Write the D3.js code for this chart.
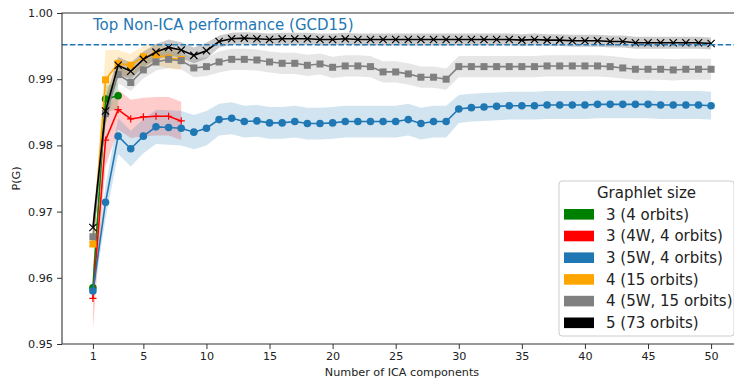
<!DOCTYPE html>
<html>
<head>
<meta charset="utf-8">
<script src="https://cdn.jsdelivr.net/npm/d3@7"></script>
<style>
  body { margin: 0; background: #fff; }
  svg text { font-family: "DejaVu Sans", sans-serif; }
</style>
</head>
<body>
<div id="chart"></div>
<script>
// ---- data ----
var xTicks = [1, 5, 10, 15, 20, 25, 30, 35, 40, 45, 50];
var yTicks = [0.95, 0.96, 0.97, 0.98, 0.99, 1.00];
var gcdLine = 0.9952;
var gcdLabel = "Top Non-ICA performance (GCD15)";
var legendTitle = "Graphlet size";

var greenVals = [0.9585, 0.9870, 0.9875];
var greenBand = [0.0010, 0.0020, 0.0020];

var redVals = [0.9569, 0.9808, 0.9854, 0.9840, 0.9843, 0.9844, 0.9844, 0.9837];
var redBand = [0.0047, 0.0040, 0.0030, 0.0029, 0.0029, 0.0029, 0.0029, 0.0029];

var orangeVals = [0.9651, 0.9899, 0.9924, 0.9921, 0.9934, 0.9937, 0.9932, 0.9930];
var orangeBand = [0.0015, 0.0045, 0.0020, 0.0017, 0.0016, 0.0016, 0.0016, 0.0016];

var blueVals = [0.9580, 0.9714, 0.9814, 0.9795, 0.9814, 0.9828, 0.9827, 0.9826, 0.9820, 0.9826,
                0.9839, 0.9841, 0.9836, 0.9837, 0.9834, 0.9834, 0.9836, 0.9833, 0.9833, 0.9834,
                0.9836, 0.9836, 0.9836, 0.9836, 0.9836, 0.9839, 0.9833, 0.9836, 0.9836, 0.9855,
                0.9857, 0.9858, 0.9859, 0.9860, 0.9860, 0.9860, 0.9861, 0.9861, 0.9861, 0.9861,
                0.9862, 0.9862, 0.9862, 0.9862, 0.9862, 0.9861, 0.9861, 0.9861, 0.9861, 0.9860];
var blueBand = [0.0012, 0.0025, 0.0027, 0.0027, 0.0026, 0.0026, 0.0026, 0.0026, 0.0026, 0.0026,
                0.0024, 0.0024, 0.0024, 0.0024, 0.0024, 0.0024, 0.0024, 0.0024, 0.0024, 0.0024,
                0.0024, 0.0024, 0.0024, 0.0024, 0.0024, 0.0024, 0.0024, 0.0024, 0.0024, 0.0021,
                0.0021, 0.0021, 0.0021, 0.0021, 0.0021, 0.0021, 0.0021, 0.0021, 0.0021, 0.0021,
                0.0021, 0.0021, 0.0021, 0.0021, 0.0021, 0.0021, 0.0021, 0.0021, 0.0021, 0.0021];

var grayVals = [0.9662, 0.9848, 0.9907, 0.9895, 0.9914, 0.9926, 0.9930, 0.9928, 0.9917, 0.9919,
                0.9926, 0.9930, 0.9930, 0.9929, 0.9926, 0.9924, 0.9924, 0.9921, 0.9923, 0.9918,
                0.9920, 0.9920, 0.9919, 0.9911, 0.9911, 0.9908, 0.9903, 0.9903, 0.9900, 0.9919,
                0.9919, 0.9919, 0.9919, 0.9919, 0.9919, 0.9919, 0.9920, 0.9920, 0.9920, 0.9920,
                0.9920, 0.9919, 0.9917, 0.9915, 0.9915, 0.9915, 0.9914, 0.9915, 0.9915, 0.9915];
var grayBand = [0.0010, 0.0015, 0.0013, 0.0013, 0.0013, 0.0013, 0.0013, 0.0013, 0.0014, 0.0014,
                0.0016, 0.0016, 0.0016, 0.0016, 0.0016, 0.0016, 0.0016, 0.0016, 0.0016, 0.0016,
                0.0016, 0.0016, 0.0016, 0.0016, 0.0016, 0.0016, 0.0016, 0.0016, 0.0016, 0.0016,
                0.0016, 0.0016, 0.0016, 0.0016, 0.0016, 0.0016, 0.0016, 0.0016, 0.0016, 0.0016,
                0.0016, 0.0016, 0.0016, 0.0016, 0.0016, 0.0016, 0.0016, 0.0016, 0.0016, 0.0016];

var blackVals = [0.9676, 0.9852, 0.9921, 0.9912, 0.9930, 0.9941, 0.9948, 0.9944, 0.9936, 0.9943,
                 0.9957, 0.9961, 0.9962, 0.9961, 0.9960, 0.9961, 0.9961, 0.9961, 0.9960, 0.9960,
                 0.9961, 0.9960, 0.9960, 0.9960, 0.9960, 0.9960, 0.9960, 0.9960, 0.9960, 0.9960,
                 0.9960, 0.9960, 0.9960, 0.9960, 0.9959, 0.9960, 0.9959, 0.9959, 0.9958, 0.9958,
                 0.9958, 0.9957, 0.9957, 0.9955, 0.9955, 0.9955, 0.9955, 0.9955, 0.9955, 0.9954];
var blackBand = [0.0015, 0.0020, 0.0013, 0.0013, 0.0012, 0.0012, 0.0012, 0.0012, 0.0012, 0.0012,
                 0.0009, 0.0009, 0.0009, 0.0009, 0.0009, 0.0009, 0.0009, 0.0009, 0.0009, 0.0009,
                 0.0009, 0.0009, 0.0009, 0.0009, 0.0009, 0.0009, 0.0009, 0.0009, 0.0009, 0.0009,
                 0.0009, 0.0009, 0.0009, 0.0009, 0.0009, 0.0009, 0.0009, 0.0009, 0.0009, 0.0009,
                 0.0009, 0.0009, 0.0009, 0.0009, 0.0009, 0.0009, 0.0009, 0.0009, 0.0009, 0.0009];

var legendLabels = ["3 (4 orbits)", "3 (4W, 4 orbits)", "3 (5W, 4 orbits)",
                    "4 (15 orbits)", "4 (5W, 15 orbits)", "5 (73 orbits)"];

// series table built from the arrays above
var series = [
  { vals: greenVals,  band: greenBand,  color: "#008000", marker: "circle" },
  { vals: redVals,    band: redBand,    color: "#ff0000", marker: "plus" },
  { vals: blueVals,   band: blueBand,   color: "#1f77b4", marker: "circle" },
  { vals: orangeVals, band: orangeBand, color: "#ffa500", marker: "square" },
  { vals: grayVals,   band: grayBand,   color: "#808080", marker: "square" },
  { vals: blackVals,  band: blackBand,  color: "#000000", marker: "cross" }
];

// ---- layout ----
var svgWidth = 734, svgHeight = 383;
var plot = { left: 62, right: 742, top: 13, bottom: 344 };

var svg = d3.select("#chart").append("svg")
    .attr("width", svgWidth)
    .attr("height", svgHeight);

var xScale = d3.scaleLinear().domain([-1.45, 52.45]).range([plot.left, plot.right]);
var yScale = d3.scaleLinear().domain([0.95, 1.00]).range([plot.bottom, plot.top]);

// bands first, then lines + markers (same drawing order as the legend)
var area = d3.area()
    .x(d => xScale(d.x))
    .y0(d => yScale(d.y - d.b))
    .y1(d => yScale(d.y + d.b));

var line = d3.line()
    .x(d => xScale(d.x))
    .y(d => yScale(d.y));

series.forEach(function(s) {
  s.points = s.vals.map((v, i) => ({ x: i + 1, y: v, b: s.band[i] }));
});

series.forEach(function(s) {
  svg.append("path")
    .datum(s.points)
    .attr("d", area)
    .attr("fill", s.color)
    .attr("fill-opacity", 0.2)
    .attr("stroke", "none");
});

series.forEach(function(s) {
  var g = svg.append("g");
  g.append("path")
    .datum(s.points)
    .attr("d", line)
    .attr("fill", "none")
    .attr("stroke", s.color)
    .attr("stroke-width", 1.6);

  var m = g.selectAll(".m").data(s.points).enter();
  if (s.marker === "circle") {
    m.append("circle")
      .attr("cx", d => xScale(d.x))
      .attr("cy", d => yScale(d.y))
      .attr("r", 3.8)
      .attr("fill", s.color);
  } else if (s.marker === "square") {
    m.append("rect")
      .attr("x", d => xScale(d.x) - 3.5)
      .attr("y", d => yScale(d.y) - 3.5)
      .attr("width", 7)
      .attr("height", 7)
      .attr("fill", s.color);
  } else {
    var r = 3.6;
    var path = s.marker === "plus"
      ? `M${-r},0H${r}M0,${-r}V${r}`
      : `M${-r},${-r}L${r},${r}M${-r},${r}L${r},${-r}`;
    m.append("path")
      .attr("transform", d => `translate(${xScale(d.x)},${yScale(d.y)})`)
      .attr("d", path)
      .attr("fill", "none")
      .attr("stroke", s.color)
      .attr("stroke-width", 1.2);
  }
});

// reference line + label
svg.append("line")
  .attr("x1", plot.left).attr("x2", plot.right)
  .attr("y1", yScale(gcdLine)).attr("y2", yScale(gcdLine))
  .attr("stroke", "#1f77b4")
  .attr("stroke-width", 1.6)
  .attr("stroke-dasharray", "5.5,2.4");

svg.append("text")
  .attr("x", xScale(1))
  .attr("y", 29.5)
  .attr("fill", "#1f77b4")
  .attr("font-size", 15)
  .text(gcdLabel);

// axes
var bottomAxis = d3.axisBottom(xScale).tickValues(xTicks).tickSize(5).tickPadding(3);
var leftAxis = d3.axisLeft(yScale).tickValues(yTicks).tickSize(5).tickPadding(4)
    .tickFormat(d3.format(".2f"));

var gx = svg.append("g")
  .attr("transform", `translate(0, ${plot.bottom})`)
  .call(bottomAxis);
var gy = svg.append("g")
  .attr("transform", `translate(${plot.left}, 0)`)
  .call(leftAxis);

[gx, gy].forEach(function(g) {
  g.select(".domain").remove();
  g.selectAll(".tick line").attr("stroke", "#333").attr("stroke-width", 1);
  g.selectAll(".tick text")
    .attr("fill", "#222")
    .attr("font-size", 11.2)
    .style("font-family", "DejaVu Sans");
});

// spines (right one falls outside the cropped picture)
svg.append("path")
  .attr("d", `M${plot.left},${plot.bottom}V${plot.top}H${plot.right}M${plot.left},${plot.bottom}H${plot.right}`)
  .attr("fill", "none")
  .attr("stroke", "#333")
  .attr("stroke-width", 1.1);

// axis labels
svg.append("text")
  .attr("x", (plot.left + plot.right) / 2)
  .attr("y", 376)
  .attr("text-anchor", "middle")
  .attr("font-size", 11.2)
  .attr("fill", "#222")
  .text("Number of ICA components");

svg.append("text")
  .attr("transform", `translate(20, ${(plot.top + plot.bottom) / 2}) rotate(-90)`)
  .attr("text-anchor", "middle")
  .attr("font-size", 11.2)
  .attr("fill", "#222")
  .text("P(G)");

// legend
var legend = svg.append("g");
legend.append("rect")
  .attr("x", 559).attr("y", 181)
  .attr("width", 175).attr("height", 155)
  .attr("rx", 3)
  .attr("fill", "#fff").attr("fill-opacity", 0.8)
  .attr("stroke", "#cccccc").attr("stroke-width", 1);

legend.append("text")
  .attr("x", 646.5).attr("y", 197.5)
  .attr("text-anchor", "middle")
  .attr("font-size", 15)
  .attr("fill", "#222")
  .text(legendTitle);

var rows = legend.selectAll(".row")
  .data(series)
  .enter()
  .append("g")
  .attr("transform", (d, i) => `translate(0, ${214.3 + i * 21.7})`);

rows.append("rect")
  .attr("x", 564).attr("y", -5.3)
  .attr("width", 30).attr("height", 10.6)
  .attr("fill", d => d.color);

rows.append("text")
  .attr("x", 606).attr("y", 5.3)
  .attr("font-size", 15)
  .attr("fill", "#222")
  .text((d, i) => legendLabels[i]);
</script>
</body>
</html>
